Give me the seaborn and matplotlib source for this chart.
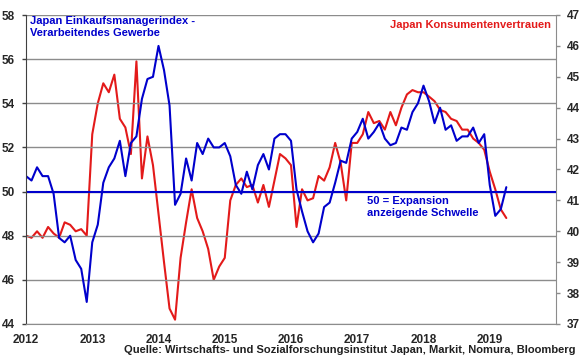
import pandas as pd
import seaborn as sns
import matplotlib.pyplot as plt

# monthly data, Dec 2011 .. Apr 2019 (Dec 2011 gets clipped by the x-limits)
months = pd.date_range("2011-12-01", "2019-04-01", freq="MS")

# Japan PMI manufacturing (left axis)
pmi = [50.2,
       50.7, 50.5, 51.1, 50.7, 50.7, 49.9, 47.9, 47.7, 48.0, 46.9, 46.5, 45.0,
       47.7, 48.5, 50.4, 51.1, 51.5, 52.3, 50.7, 52.2, 52.5, 54.2, 55.1, 55.2,
       56.6, 55.5, 53.9, 49.4, 49.9, 51.5, 50.5, 52.2, 51.7, 52.4, 52.0, 52.0,
       52.2, 51.6, 50.3, 49.9, 50.9, 50.1, 51.2, 51.7, 51.0, 52.4, 52.6, 52.6,
       52.3, 50.1, 49.1, 48.2, 47.7, 48.1, 49.3, 49.5, 50.4, 51.4, 51.3, 52.4,
       52.7, 53.3, 52.4, 52.7, 53.1, 52.4, 52.1, 52.2, 52.9, 52.8, 53.6, 54.0,
       54.8, 54.1, 53.1, 53.8, 52.8, 53.0, 52.3, 52.5, 52.5, 52.9, 52.2, 52.6,
       50.3, 48.9, 49.2, 50.2]

# Japan consumer confidence (right axis)
konsum = [39.14,
          39.86, 39.79, 40.00, 39.79, 40.14, 39.93, 39.79, 40.29, 40.21, 40.00, 40.07, 39.86,
          43.14, 44.14, 44.79, 44.50, 45.07, 43.64, 43.36, 42.50, 45.50, 41.71, 43.07, 42.14,
          40.57, 39.00, 37.50, 37.14, 39.14, 40.29, 41.36, 40.43, 40.00, 39.43, 38.43, 38.86,
          39.14, 41.00, 41.50, 41.71, 41.43, 41.50, 40.93, 41.50, 40.79, 41.64, 42.50, 42.36,
          42.14, 40.14, 41.36, 41.00, 41.07, 41.79, 41.64, 42.07, 42.86, 42.21, 41.00, 42.86,
          42.86, 43.14, 43.86, 43.50, 43.57, 43.29, 43.86, 43.43, 44.00, 44.43, 44.57, 44.50,
          44.50, 44.36, 44.21, 43.93, 43.86, 43.64, 43.57, 43.29, 43.29, 43.00, 42.86, 42.64,
          41.93, 41.36, 40.71, 40.43]

years = list(range(2012, 2020))
left_ticks = list(range(44, 59, 2))
right_ticks = list(range(37, 48))

blue = "#0000CC"
red = "#E31A1A"
grid_col = "#8C8C8C"

sns.set_style("white")
plt.rcParams['font.family'] = ['Liberation Sans', 'DejaVu Sans']
plt.rcParams['font.weight'] = 'bold'

df = pd.DataFrame({
    "t": months.year + (months.month - 1) / 12,
    "pmi": pmi,
    "konsum": konsum,
})

fig = plt.figure(figsize=(5.8, 3.59), dpi=100)
ax = fig.add_axes([26 / 580, 35 / 359, 530 / 580, 309 / 359])
ax2 = ax.twinx()

ax.set_zorder(ax2.get_zorder() + 1)  # blue line above the red one
ax.patch.set_visible(False)

sns.lineplot(data=df, x="t", y="konsum", ax=ax2, color=red, lw=1.5)
sns.lineplot(data=df, x="t", y="pmi", ax=ax, color=blue, lw=1.5)
ax.axhline(50, color=blue, lw=1.5, zorder=1)

# left axis
ax.set_xlim(2012, 2020)
ax.set_ylim(44, 58)
ax.set_yticks(left_ticks)
ax.set_xticks(years)
ax.set_xticklabels([str(y) for y in years])
ax.grid(axis='y', color=grid_col, lw=1)
ax.set_xlabel("")
ax.set_ylabel("")
ax.tick_params(axis='y', length=3, width=1, color="#404040", pad=5, labelsize=8.5)
ax.tick_params(axis='x', length=3, width=1, color="#404040", pad=4, labelsize=8.5)
for s in ["top", "right"]:
    ax.spines[s].set_visible(False)
ax.spines["left"].set_color("#404040")
ax.spines["bottom"].set_color(grid_col)

# right axis
ax2.set_ylim(37, 47)
ax2.set_yticks(right_ticks)
ax2.set_ylabel("")
ax2.grid(False)
ax2.tick_params(axis='y', length=3, width=1, color=grid_col, pad=5, labelsize=8.5)
for s in ["top", "left", "bottom"]:
    ax2.spines[s].set_visible(False)
ax2.spines["right"].set_color(grid_col)

# annotations
fig.text(30 / 580, 1 - 16 / 359, "Japan Einkaufsmanagerindex -\nVerarbeitendes Gewerbe",
         color=blue, fontsize=8, fontweight='bold', va='top', ha='left', linespacing=1.2)
fig.text(551 / 580, 1 - 25 / 359, "Japan Konsumentenvertrauen",
         color=red, fontsize=8, fontweight='bold', va='center', ha='right')
fig.text(367 / 580, 1 - 196 / 359, "50 = Expansion\nanzeigende Schwelle",
         color=blue, fontsize=8, fontweight='bold', va='top', ha='left', linespacing=1.2)
fig.text(576 / 580, 1 - 353 / 359,
         "Quelle: Wirtschafts- und Sozialforschungsinstitut Japan, Markit, Nomura, Bloomberg",
         color="#202020", fontsize=8, fontweight='bold', va='baseline', ha='right')

fig.savefig("out.png", dpi=100)
